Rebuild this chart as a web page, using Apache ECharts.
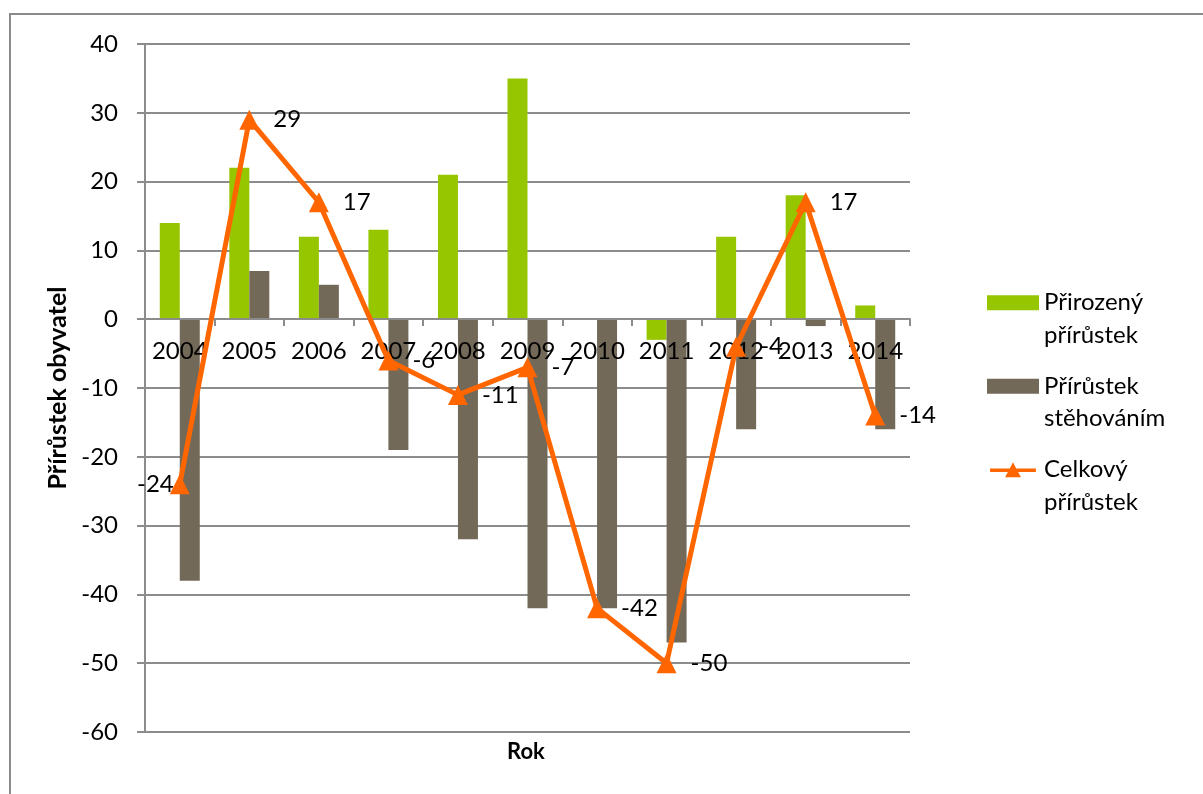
<!DOCTYPE html>
<html>
<head>
<meta charset="utf-8">
<script src="https://cdn.jsdelivr.net/npm/echarts@6/dist/echarts.min.js"></script>
<style>html,body{margin:0;padding:0;background:#fff}#c{width:1203px;height:794px}</style>
</head>
<body>
<div id="c"></div>
<script>
const years = ['2004','2005','2006','2007','2008','2009','2010','2011','2012','2013','2014'];
const prirozeny = [14, 22, 12, 13, 21, 35, 0, -3, 12, 18, 2];
const stehovani = [-38, 7, 5, -19, -32, -42, -42, -47, -16, -1, -16];
const celkovy = [-24, 29, 17, -6, -11, -7, -42, -50, -4, 17, -14];
const yTicks = [40, 30, 20, 10, 0, -10, -20, -30, -40, -50, -60];

const FONT = 'Lato, "Open Sans", sans-serif';
const FS = 24;
const LINE_ICON = 'path://M0,7 L22.3,7 L26,0 L29.7,7 L52,7 L52,11 L31.8,11 L35,17 L17,17 L20.2,11 L0,11 Z';
const chart = echarts.init(document.getElementById('c'));
chart.setOption({
  animation: false,
  textStyle: { fontFamily: FONT },
  grid: { left: 145, right: 293, top: 44, bottom: 62, containLabel: false },
  graphic: [
    { type: 'rect', shape: { x: 10, y: 14, width: 1300, height: 900 }, style: { fill: 'none', stroke: '#8a8a8a', lineWidth: 2 }, silent: true },
    { type: 'text', left: 507, top: 741, style: { text: 'Rok', font: 'bold 22px ' + FONT, fill: '#000' } }
  ],
  legend: {
    orient: 'vertical', left: 987, top: 254, padding: 0,
    itemWidth: 52, itemHeight: 15, itemGap: -14,
    textStyle: { fontSize: FS, color: '#000', lineHeight: 32.5, fontFamily: FONT },
    formatter: function (n) { return '\n' + n.replace(' ', '\n'); },
    data: [
      { name: 'Přirozený přírůstek', icon: 'rect' },
      { name: 'Přírůstek stěhováním', icon: 'rect' },
      { name: 'Celkový přírůstek', icon: LINE_ICON }
    ]
  },
  xAxis: {
    type: 'category', data: years, offset: -413, z: 10,
    axisLine: { onZero: false, lineStyle: { color: '#8c8c8c', width: 2 } },
    axisTick: { show: true, length: 7, lineStyle: { color: '#8c8c8c', width: 2 } },
    axisLabel: { color: '#000', fontSize: FS, margin: 20, fontFamily: FONT, interval: 0, hideOverlap: false },
    splitLine: { show: false }
  },
  yAxis: {
    type: 'value', min: -60, max: 40, interval: 10,
    name: 'Přírůstek obyvatel', nameLocation: 'middle', nameGap: 70, nameRotate: 90,
    nameTextStyle: { fontSize: 25, fontWeight: 'bold', color: '#000', fontFamily: FONT },
    axisLine: { show: true, lineStyle: { color: '#8c8c8c', width: 2 } },
    axisTick: { show: true, length: 8, lineStyle: { color: '#8c8c8c', width: 2 } },
    axisLabel: { color: '#000', fontSize: FS, margin: 27, fontFamily: FONT,
      formatter: function (v) { return yTicks.indexOf(v) >= 0 ? String(v) : ''; } },
    splitLine: { lineStyle: { color: '#8c8c8c', width: 2 } }
  },
  series: [
    { name: 'Přirozený přírůstek', type: 'bar', data: prirozeny, barWidth: 20, barGap: '0%',
      itemStyle: { color: '#95c600' } },
    { name: 'Přírůstek stěhováním', type: 'bar', data: stehovani, barWidth: 20, barGap: '0%',
      itemStyle: { color: '#736959' } },
    { name: 'Celkový přírůstek', type: 'line', data: celkovy.map(function (v, i) {
        return i === 0 ? { value: v, label: { position: 'left', distance: -4 } } : v; }),
      symbol: 'triangle', symbolSize: 20,
      lineStyle: { color: '#ff6600', width: 5 },
      itemStyle: { color: '#ff6600' },
      label: { show: true, position: 'right', distance: 14, fontSize: FS, color: '#000', fontFamily: FONT },
      labelLayout: { hideOverlap: false },
      z: 12 }
  ]
});
</script>
</body>
</html>
